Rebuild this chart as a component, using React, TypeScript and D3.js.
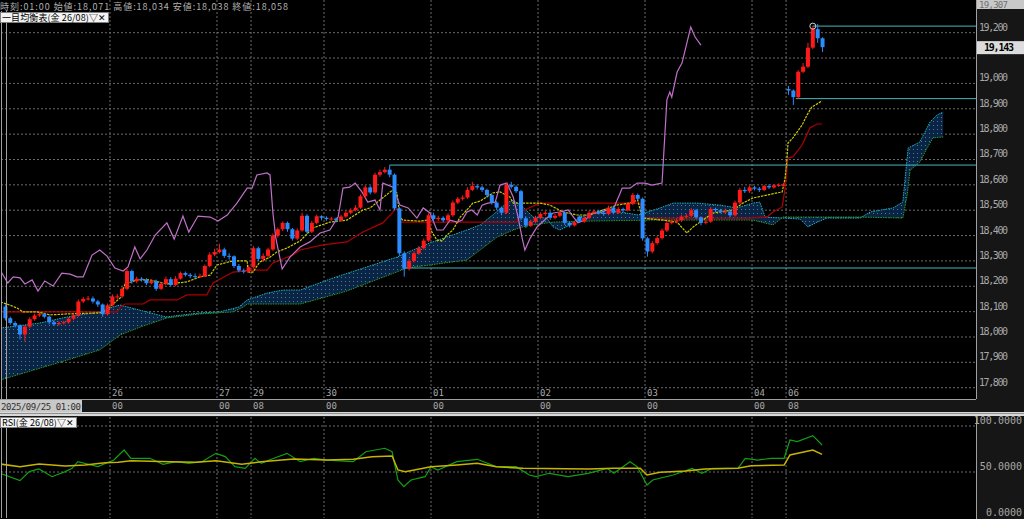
import React from 'react';
import * as d3 from 'd3';

// ---------- data (hourly bars, index 0 = 2025/09/25) ----------
const OPEN = [
  18120, 18074, 18055, 18045, 18010, 18041, 18070, 18085, 18090, 18080,
  18058, 18050, 18055, 18058, 18072, 18085, 18140, 18150, 18152, 18140,
  18128, 18090, 18125, 18160, 18160, 18190, 18260, 18220, 18230, 18225,
  18212, 18220, 18190, 18210, 18228, 18205, 18230, 18252, 18245, 18240,
  18237, 18240, 18280, 18325, 18335, 18345, 18320, 18318, 18280, 18262,
  18258, 18275, 18350, 18308, 18320, 18345, 18400, 18425, 18450, 18425,
  18388, 18420, 18478, 18415, 18450, 18476, 18470, 18465, 18467, 18460,
  18475, 18490, 18500, 18510, 18555, 18590, 18570, 18640, 18650, 18660,
  18640, 18507, 18330, 18270, 18300, 18330, 18350, 18380, 18480, 18465,
  18470, 18460, 18480, 18530, 18545, 18550, 18580, 18595, 18590, 18580,
  18560, 18530, 18510, 18490, 18600, 18592, 18575, 18468, 18440, 18455,
  18470, 18485, 18490, 18470, 18478, 18490, 18450, 18440, 18475, 18455,
  18470, 18490, 18495, 18490, 18485, 18510, 18490, 18505, 18500, 18525,
  18560, 18545, 18389, 18337, 18370, 18390, 18420, 18450, 18455, 18460,
  18475, 18478, 18500, 18472, 18450, 18455, 18505, 18500, 18495, 18495,
  18480, 18530, 18580, 18575, 18590, 18585, 18580, 18595, 18590, 18598,
  18600, 18978, 18972, 18946, 19046, 19066, 19141, 19214, 19178,
];
const HIGH = [
  18128, 18080, 18062, 18050, 18046, 18078, 18092, 18098, 18096, 18085,
  18066, 18062, 18064, 18078, 18092, 18148, 18158, 18162, 18160, 18146,
  18132, 18132, 18168, 18170, 18196, 18268, 18265, 18238, 18236, 18232,
  18228, 18226, 18216, 18238, 18236, 18240, 18258, 18258, 18252, 18250,
  18250, 18286, 18334, 18348, 18368, 18352, 18330, 18322, 18288, 18270,
  18282, 18358, 18356, 18330, 18352, 18408, 18432, 18456, 18455, 18430,
  18428, 18490, 18484, 18458, 18482, 18480, 18476, 18474, 18472, 18482,
  18498, 18508, 18520, 18562, 18598, 18596, 18648, 18660, 18670, 18678,
  18645, 18512, 18338, 18308, 18338, 18358, 18388, 18488, 18490, 18478,
  18476, 18488, 18538, 18552, 18558, 18590, 18612, 18602, 18596, 18585,
  18565, 18536, 18515, 18606, 18612, 18598, 18580, 18476, 18462, 18478,
  18492, 18498, 18496, 18486, 18497, 18494, 18456, 18458, 18480, 18477,
  18497, 18502, 18500, 18496, 18518, 18515, 18512, 18510, 18532, 18568,
  18566, 18550, 18395, 18378, 18398, 18428, 18458, 18462, 18468, 18482,
  18486, 18508, 18505, 18476, 18462, 18512, 18510, 18505, 18506, 18500,
  18538, 18588, 18592, 18598, 18596, 18592, 18600, 18602, 18604, 18606,
  18606, 18990, 18976, 19052, 19080, 19160, 19226, 19235, 19182,
];
const LOW = [
  18065, 18048, 18038, 17990, 17982, 18035, 18064, 18080, 18074, 18050,
  18044, 18045, 18049, 18052, 18066, 18080, 18134, 18143, 18132, 18118,
  18080, 18084, 18120, 18150, 18154, 18184, 18210, 18212, 18218, 18205,
  18208, 18182, 18185, 18205, 18200, 18200, 18226, 18238, 18232, 18230,
  18232, 18236, 18275, 18318, 18330, 18312, 18305, 18272, 18255, 18250,
  18252, 18270, 18300, 18296, 18314, 18340, 18392, 18418, 18415, 18380,
  18382, 18415, 18408, 18410, 18444, 18460, 18458, 18458, 18452, 18455,
  18470, 18484, 18495, 18505, 18548, 18562, 18565, 18632, 18645, 18630,
  18500, 18320, 18238, 18262, 18294, 18324, 18345, 18375, 18455, 18458,
  18452, 18454, 18474, 18524, 18538, 18545, 18575, 18582, 18572, 18550,
  18522, 18500, 18480, 18485, 18585, 18568, 18460, 18430, 18434, 18448,
  18464, 18478, 18462, 18464, 18472, 18442, 18432, 18436, 18450, 18450,
  18465, 18484, 18483, 18478, 18480, 18484, 18485, 18493, 18495, 18520,
  18538, 18380, 18317, 18330, 18364, 18384, 18414, 18444, 18448, 18454,
  18468, 18472, 18465, 18440, 18444, 18450, 18492, 18488, 18486, 18472,
  18475, 18524, 18568, 18568, 18578, 18572, 18575, 18584, 18585, 18592,
  18594, 18955, 18915, 18940, 19040, 19060, 19135, 19160, 19124,
];
const CLOSE = [
  18074, 18055, 18045, 18010, 18041, 18070, 18085, 18090, 18080, 18058,
  18050, 18055, 18058, 18072, 18085, 18140, 18150, 18152, 18140, 18128,
  18090, 18125, 18160, 18160, 18190, 18260, 18220, 18230, 18225, 18212,
  18220, 18190, 18210, 18228, 18205, 18230, 18252, 18245, 18240, 18237,
  18240, 18280, 18325, 18335, 18345, 18320, 18318, 18280, 18262, 18258,
  18275, 18350, 18308, 18320, 18345, 18400, 18425, 18450, 18425, 18388,
  18420, 18478, 18415, 18450, 18476, 18470, 18465, 18467, 18460, 18475,
  18490, 18500, 18510, 18555, 18590, 18570, 18640, 18650, 18660, 18640,
  18507, 18330, 18270, 18300, 18330, 18350, 18380, 18480, 18465, 18470,
  18460, 18480, 18530, 18545, 18550, 18580, 18595, 18590, 18580, 18560,
  18530, 18510, 18490, 18600, 18592, 18575, 18468, 18440, 18455, 18470,
  18485, 18490, 18470, 18478, 18490, 18450, 18440, 18452, 18455, 18470,
  18490, 18495, 18490, 18485, 18510, 18490, 18505, 18500, 18525, 18560,
  18545, 18389, 18337, 18370, 18390, 18420, 18450, 18455, 18460, 18475,
  18478, 18500, 18472, 18450, 18455, 18505, 18500, 18495, 18495, 18480,
  18530, 18580, 18575, 18590, 18585, 18580, 18595, 18590, 18598, 18600,
  18600, 18972, 18946, 19046, 19066, 19141, 19214, 19178, 19143,
];

// Ichimoku lines, knots [barIndex, price]
const TENKAN: [number, number][] = [
  [-1, 18138], [0.9, 18126], [2.4, 18114], [3.6, 18099], [6.5, 18099], [9.2, 18087], [12.7, 18091],
  [19.4, 18095], [20.9, 18106], [22.1, 18130], [23.6, 18154], [24.6, 18209], [27.1, 18225], [29.7, 18225],
  [33.2, 18209], [37.3, 18217], [40, 18237], [42.1, 18244], [43.5, 18284], [46.8, 18300], [49.7, 18300],
  [49.9, 18256], [50.9, 18256], [52.3, 18296], [54.4, 18315], [55.8, 18335], [57.9, 18351], [60.6, 18379],
  [63.2, 18430], [66.7, 18453], [70.2, 18461], [73.5, 18501], [75, 18509], [77, 18540], [79.1, 18572],
  [79.7, 18580], [80.5, 18568], [81.1, 18473], [81.7, 18461], [85.2, 18457], [86.7, 18461], [87.7, 18414],
  [88.7, 18382], [89.8, 18379], [90.8, 18402], [92, 18422], [93.5, 18473], [94.9, 18501], [96.1, 18528],
  [97.6, 18536], [100.2, 18568], [101.7, 18572], [103.7, 18552], [104.4, 18528], [109.9, 18528],
  [112, 18520], [114.6, 18493], [117.5, 18481], [120.2, 18481], [122.9, 18501], [125.7, 18520],
  [128.4, 18528], [130, 18540], [130.9, 18469], [135.2, 18461], [138.1, 18453], [140.1, 18410],
  [141.4, 18434], [142.8, 18453], [145.5, 18489], [149.6, 18501], [151.6, 18528], [153.7, 18548],
  [156.6, 18560], [159.7, 18572], [160.3, 18627], [160.7, 18706], [160.9, 18765], [161.9, 18785],
  [163.8, 18836], [164.8, 18875], [165.8, 18907], [167.9, 18931],
];
const KIJUN: [number, number][] = [
  [-1, 18099], [23, 18099], [23.6, 18118], [24.6, 18130], [28.3, 18130], [29.7, 18146], [35.3, 18146],
  [37.3, 18166], [41.4, 18166], [42.7, 18213], [46.8, 18256], [50.9, 18264], [53.8, 18264], [55, 18292],
  [59.1, 18323], [60.6, 18343], [65.3, 18363], [70.2, 18375], [73.5, 18414], [77.6, 18450], [80.1, 18501],
  [80.7, 18505], [81.1, 18453], [105.2, 18453], [105.8, 18493], [109.9, 18528], [130.5, 18528],
  [131.1, 18469], [152.5, 18469], [156.6, 18473], [157.8, 18493], [159.7, 18513], [160.3, 18587],
  [160.9, 18706], [161.9, 18710], [163.8, 18757], [165.4, 18824], [166.9, 18840], [167.9, 18840],
];
const SPAN_A: [number, number][] = [
  [-1.1, 18035], [7.1, 18055], [12.7, 18079], [19.4, 18099], [22.1, 18118], [23.6, 18126], [33, 18079],
  [40, 18095], [44, 18099], [48, 18118], [49.7, 18146], [53.8, 18173], [57.1, 18185], [60.6, 18185],
  [67.4, 18233], [80.5, 18315], [83.8, 18343], [87.3, 18371], [94.9, 18422], [97.6, 18442], [100.2, 18481],
  [103.1, 18528], [104.4, 18540], [106.4, 18513], [108.5, 18473], [111.3, 18469], [112.6, 18434],
  [114, 18422], [116.1, 18442], [118.1, 18473], [122.9, 18501], [126.4, 18493], [130.1, 18481],
  [134.6, 18509], [137.3, 18528], [142.2, 18528], [146.9, 18520], [150.4, 18509], [153.7, 18528],
  [155.1, 18532], [156.2, 18473], [163.4, 18465], [165, 18434], [166.9, 18453], [168.9, 18469],
  [175.7, 18469], [177.8, 18493], [182.5, 18509], [184.5, 18532], [185.6, 18745], [188, 18769],
  [190.1, 18848], [191.5, 18875], [192.8, 18887],
];
const SPAN_B: [number, number][] = [
  [-1.1, 17830], [12.7, 17909], [19.4, 17949], [23.6, 18008], [27.7, 18039], [33.2, 18075], [40, 18091],
  [46.8, 18099], [48.9, 18118], [49.7, 18130], [60.6, 18130], [70, 18180], [82.6, 18272], [87.3, 18284],
  [94.9, 18304], [97.6, 18343], [101.1, 18394], [104.4, 18422], [106.4, 18434], [108.5, 18442],
  [112.6, 18453], [119.6, 18457], [133.1, 18461], [153.7, 18461], [157.8, 18442], [159.9, 18473],
  [175.7, 18473], [184.5, 18469], [185.4, 18560], [186, 18658], [188, 18690], [189.5, 18745],
  [190.7, 18785], [192.8, 18789],
];
const CHIKOU: [number, number][] = [
  [-1.1, 18264], [0.5, 18213], [1.6, 18237], [3, 18233], [4, 18209], [5.5, 18225], [6.7, 18181],
  [8.1, 18221], [9.8, 18201], [11.6, 18252], [13.3, 18248], [14.7, 18237], [16, 18237], [17.8, 18323],
  [19.4, 18343], [20.9, 18319], [22.5, 18272], [24.2, 18260], [25.2, 18276], [26.6, 18355], [27.7, 18308],
  [29.1, 18343], [30.8, 18402], [33.2, 18450], [34.7, 18386], [36.5, 18477], [37.7, 18414], [39.6, 18477],
  [42.1, 18473], [43.7, 18457], [45.6, 18481], [47.6, 18528], [49.7, 18587], [50.7, 18587], [51.7, 18639],
  [53.8, 18647], [54.4, 18639], [55, 18489], [55.6, 18390], [56.9, 18268], [58.5, 18315], [60.6, 18355],
  [62.6, 18375], [64.7, 18410], [66.7, 18422], [68.4, 18473], [69.4, 18587], [70.8, 18591], [71.9, 18607],
  [73.3, 18572], [74.5, 18532], [76, 18540], [77, 18501], [77.6, 18607], [79.7, 18591], [81.1, 18520],
  [82.8, 18509], [84.6, 18469], [85.9, 18509], [87.3, 18489], [88.7, 18422], [90, 18422], [91.4, 18461],
  [92.9, 18453], [93.9, 18461], [94.9, 18493], [95.9, 18501], [97, 18481], [98, 18520], [99.2, 18528],
  [100.7, 18532], [101.7, 18599], [103.1, 18607], [104.4, 18552], [105.4, 18473], [106.2, 18394],
  [106.8, 18343], [107.9, 18390], [109.3, 18434], [111.3, 18469], [112.6, 18489], [114, 18493],
  [115.7, 18501], [116.5, 18481], [117.7, 18450], [119.2, 18461], [120.6, 18489], [122.2, 18489],
  [123.7, 18501], [124.9, 18501], [126.4, 18568], [126.8, 18587], [128.4, 18587], [129.9, 18607],
  [131.5, 18607], [132.9, 18599], [135, 18607], [136, 18935], [136.6, 18966], [137, 18946],
  [138.1, 19045], [139.1, 19080], [140.9, 19222], [141.8, 19183], [143, 19151],
];

// RSI panel knots [barIndex, value]
const RSI_LINE: [number, number][] = [
  [-1.1, 48.6], [3, 40.6], [4.9, 50.4], [6.9, 53.3], [9.6, 44.9], [12.3, 50.4], [13.7, 54], [14.9, 61.2],
  [19, 55.8], [22.3, 63], [24.4, 73.9], [25.8, 64.9], [29.7, 64.9], [32.4, 58.3], [35.1, 61.2], [37.7, 59.4],
  [40.4, 61.2], [43.3, 70.3], [45.2, 66.7], [47.2, 55.8], [49.3, 54], [51.3, 64.9], [52.6, 59.4],
  [55.2, 64.9], [57.9, 70.3], [60.6, 61.2], [63.4, 64.9], [66.1, 63], [71.5, 61.2], [74.1, 72], [78, 75.8],
  [79.5, 72], [80.7, 41.3], [81.9, 34], [83.4, 41.3], [86.3, 44.9], [87.5, 55.8], [88.9, 52.2],
  [92.8, 61.2], [97, 63.8], [100.9, 55.8], [105, 55.8], [107.7, 46.7], [109.1, 44.9], [111.8, 48.6],
  [115.7, 44.9], [119.8, 48.6], [123.7, 54], [125.1, 48.6], [128.4, 61.2], [129.9, 55.8], [131.9, 35.9],
  [133.1, 41.3], [137.3, 46.7], [141.2, 54], [143.2, 48.6], [145.3, 54], [150.6, 54], [152.1, 64.9],
  [154.7, 63], [157.4, 64.9], [160.1, 64.9], [161.3, 84.8], [162.8, 83], [166, 89.5], [167.9, 79.3],
];
const RSI_SIGNAL: [number, number][] = [
  [-1.1, 58.7], [3, 55.8], [6.9, 58.7], [12.3, 56.5], [16.4, 57.6], [20.5, 60], [23.2, 60.5], [25.8, 62.3],
  [33.8, 61.2], [39.2, 60.5], [43.3, 62.3], [48.6, 58.3], [52.6, 61.2], [59.3, 64.1], [66.1, 63],
  [71.5, 63.8], [75.4, 66.7], [79.5, 67.4], [80.7, 52.2], [82.2, 50.4], [87.5, 55.8], [92.8, 57.6],
  [97, 59.4], [100.9, 55.8], [106.4, 54], [119.8, 53.3], [125.1, 54], [130.5, 54], [131.9, 46.7],
  [134.6, 49.6], [139.9, 51], [143.8, 53.3], [150.6, 54], [153.3, 56.9], [160.1, 57.6], [161.3, 68.5],
  [166, 73.9], [167.9, 69.2],
];

// horizontal high/low markers: [startIndex, price]
const LEVELS: [number, number][] = [[166, 19226], [162.5, 18940], [79, 18678], [81.8, 18272]];
const HIGH_MARK: [number, number] = [166, 19226];
const LAST_PRICE = 19143;
const TOP_PRICE = '19,307';

const PRICE_TICKS = [17800, 17900, 18000, 18100, 18200, 18300, 18400, 18500, 18600, 18700, 18800, 18900, 19000, 19100, 19200];
const RSI_TICKS = [100, 50, 0];
const TICK_INDEX = [22, 44, 51, 66, 88, 110, 132, 154, 161];
const TICK_DAY = ['26', '27', '29', '30', '01', '02', '03', '04', '06'];
const TICK_HOUR = ['00', '00', '08', '00', '00', '00', '00', '00', '08'];

const HEADER = '時刻:01:00 始値:18,071 高値:18,034 安値:18,038 終値:18,058';
const LEGEND_MAIN = '一目均衡表(金 26/08)▽✕';
const LEGEND_RSI = 'RSI(金 26/08)▽✕';
const START_LABEL = '2025/09/25 01:00';

// ---------- layout ----------
const PLOT_R = 976;
const MAIN_B = 399;
const RSI_T = 417;
const RSI_B = 518;

const x = d3.scaleLinear().domain([0, 200]).range([5.4, 5.4 + 200 * 4.864]);
const y = d3.scaleLinear().domain([17800, 19200]).range([387.7, 32.7]);
const ry = d3.scaleLinear().domain([0, 100]).range([518, 426]);

const fmt = d3.format(',');
const MONO = '"DejaVu Sans Mono", monospace';
const JP = '"Noto Sans CJK JP", sans-serif';

export default function App() {
  const line = d3.line<[number, number]>().x((d) => x(d[0])).y((d) => y(d[1]));
  const rline = d3.line<[number, number]>().x((d) => x(d[0])).y((d) => ry(d[1]));
  const cloudPts = [...SPAN_A, ...[...SPAN_B].reverse()];
  const cloudPath = 'M' + cloudPts.map((d) => `${x(d[0])},${y(d[1])}`).join('L') + 'Z';
  const bw = 4;

  return (
    <svg width={1024} height={519} style={{ position: 'fixed', left: 0, top: 0, display: 'block' }}
      fontFamily={MONO}>
      <defs>
        <pattern id="dots" width="4" height="4" patternUnits="userSpaceOnUse">
          <rect width="4" height="4" fill="#0b2444" />
          <rect x="1" y="1" width="1" height="1" fill="#3b7fa8" />
        </pattern>
        <clipPath id="mainClip"><rect x={1} y={0} width={PLOT_R - 1} height={MAIN_B} /></clipPath>
        <clipPath id="rsiClip"><rect x={1} y={RSI_T} width={PLOT_R - 1} height={RSI_B - RSI_T} /></clipPath>
      </defs>
      <rect width={1024} height={519} fill="#161616" />
      <rect x={0} y={0} width={PLOT_R} height={MAIN_B} fill="#000" />
      <rect x={0} y={RSI_T} width={PLOT_R} height={519 - RSI_T} fill="#000" />

      {/* horizontal grid */}
      {PRICE_TICKS.map((t) => (
        <line key={t} x1={1} x2={PLOT_R} y1={y(t)} y2={y(t)} stroke="#6a6a6a" strokeDasharray="2,2" />
      ))}
      {RSI_TICKS.slice(0, 2).map((t) => (
        <line key={t} x1={1} x2={PLOT_R} y1={ry(t)} y2={ry(t)} stroke="#6a6a6a" strokeDasharray="2,2" />
      ))}
      {/* vertical grid */}
      {TICK_INDEX.map((t) => (
        <g key={t}>
          <line x1={x(t - 0.5)} x2={x(t - 0.5)} y1={0} y2={MAIN_B} stroke="#6a6a6a" strokeDasharray="2,2" />
          <line x1={x(t - 0.5)} x2={x(t - 0.5)} y1={RSI_T} y2={RSI_B} stroke="#6a6a6a" strokeDasharray="2,2" />
        </g>
      ))}

      <g clipPath="url(#mainClip)">
        <path d={cloudPath} fill="url(#dots)" />
        <path d={line(SPAN_A) || ''} fill="none" stroke="#1fb3c4" strokeWidth={1} strokeDasharray="1.5,1" />
        <path d={line(SPAN_B) || ''} fill="none" stroke="#2a9a2a" strokeWidth={1} strokeDasharray="1.5,1" />
        <path d={line(KIJUN) || ''} fill="none" stroke="#b00000" strokeWidth={1.2} />
        <path d={line(TENKAN) || ''} fill="none" stroke="#c8c800" strokeWidth={1.2} strokeDasharray="2.5,1" />
        <path d={line(CHIKOU) || ''} fill="none" stroke="#c070c8" strokeWidth={1.2} />
        {LEVELS.map((l, k) => (
          <line key={k} x1={x(l[0])} x2={PLOT_R} y1={y(l[1])} y2={y(l[1])} stroke="#45b8bc" strokeWidth={1} />
        ))}
        {CLOSE.map((c, i) => {
          const o = OPEN[i];
          const up = c >= o;
          const col = up ? '#ff1a1a' : '#2a8cff';
          const top = y(Math.max(o, c));
          const bot = y(Math.min(o, c));
          return (
            <g key={i}>
              <line x1={x(i)} x2={x(i)} y1={y(HIGH[i])} y2={y(LOW[i])} stroke={col} />
              <rect x={x(i) - bw / 2} y={top} width={bw} height={Math.max(1, bot - top)} fill={col} />
            </g>
          );
        })}
        <circle cx={x(HIGH_MARK[0])} cy={y(HIGH_MARK[1])} r={3} fill="none" stroke="#d0d0d0" strokeWidth={1} />
      </g>

      {/* borders */}
      <line x1={1.5} x2={1.5} y1={11} y2={MAIN_B} stroke="#a0a0a0" />
      <line x1={6.5} x2={6.5} y1={11} y2={MAIN_B} stroke="#a0a0a0" />
      <line x1={PLOT_R + 0.5} x2={PLOT_R + 0.5} y1={0} y2={MAIN_B} stroke="#a0a0a0" />
      <line x1={0} x2={PLOT_R} y1={MAIN_B + 0.5} y2={MAIN_B + 0.5} stroke="#a0a0a0" />

      {/* x axis labels */}
      {TICK_INDEX.map((t, k) => (
        <g key={t} fontSize={9} fill="#a8a8a8">
          <text x={x(t - 0.5) + 2} y={396}>{TICK_DAY[k]}</text>
          <text x={x(t - 0.5) + 2} y={409}>{TICK_HOUR[k]}</text>
        </g>
      ))}
      <rect x={0} y={400} width={82} height={12} fill="#c8c8c8" />
      <text x={1} y={409.5} fontSize={9} fill="#303030" textLength={80}>{START_LABEL}</text>
      <rect x={0} y={412} width={1024} height={4} fill="#d8d8d8" />
      <line x1={0} x2={1024} y1={413.5} y2={413.5} stroke="#909090" />

      {/* price labels (19,100 hidden under the last-price box) */}
      {PRICE_TICKS.filter((t) => Math.abs(y(t) - y(LAST_PRICE)) > 14).map((t) => (
        <text key={t} x={979} y={y(t) - 2} fontSize={10} fill="#a8a8a8" textLength={29}>{fmt(t)}</text>
      ))}
      <rect x={977} y={0} width={47} height={9} fill="#c8c8c8" />
      <text x={979} y={8} fontSize={9} fill="#707070" textLength={29}>{TOP_PRICE}</text>
      <rect x={977} y={y(LAST_PRICE) - 6} width={47} height={13} fill="#dcdcdc" />
      <text x={984} y={y(LAST_PRICE) + 4} fontSize={10} fontWeight="bold" fill="#000" textLength={30}>{fmt(LAST_PRICE)}</text>

      {/* header */}
      <text x={0} y={9.5} fontSize={9} fill="#b0b0b0" fontFamily={JP} textLength={288}>{HEADER}</text>
      <rect x={0.5} y={12.5} width={108} height={10} fill="#f4f4f4" stroke="#808080" />
      <text x={2} y={21} fontSize={9} fill="#000" fontFamily={JP} textLength={104}>{LEGEND_MAIN}</text>

      {/* RSI panel */}
      <g clipPath="url(#rsiClip)">
        <path d={rline(RSI_LINE) || ''} fill="none" stroke="#12a012" strokeWidth={1.2} />
        <path d={rline(RSI_SIGNAL) || ''} fill="none" stroke="#c8b400" strokeWidth={1.5} />
      </g>
      <line x1={1.5} x2={1.5} y1={RSI_T} y2={RSI_B} stroke="#a0a0a0" />
      <line x1={6.5} x2={6.5} y1={RSI_T} y2={RSI_B} stroke="#a0a0a0" />
      <line x1={PLOT_R + 0.5} x2={PLOT_R + 0.5} y1={RSI_T} y2={519} stroke="#a0a0a0" />
      <rect x={0.5} y={417.5} width={76} height={10} fill="#f4f4f4" stroke="#808080" />
      <text x={2} y={426} fontSize={9} fill="#000" fontFamily={JP} textLength={72}>{LEGEND_RSI}</text>
      {RSI_TICKS.map((t) => (
        <text key={t} x={1022} y={ry(t) - 2} fontSize={10} fill="#a8a8a8" textAnchor="end">{d3.format('.4f')(t)}</text>
      ))}
    </svg>
  );
}
